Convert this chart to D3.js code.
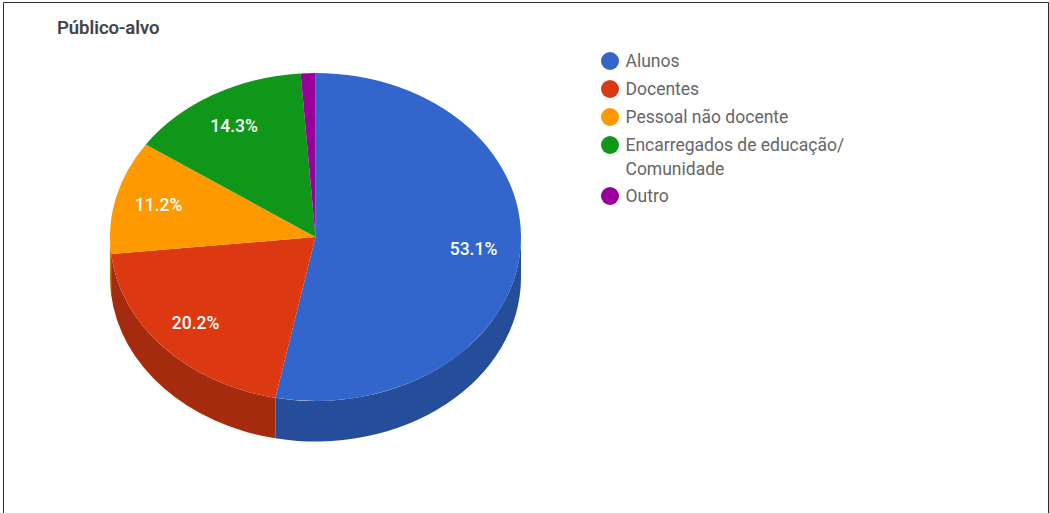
<!DOCTYPE html>
<html><head><meta charset="utf-8">
<script src="https://cdn.jsdelivr.net/npm/d3@7"></script>
<style>html,body{margin:0;padding:0;background:#fff;overflow:hidden}svg{display:block}text{font-family:Roboto,sans-serif}</style>
</head><body><svg id="c" width="1050" height="514"></svg>
<script>
const categories = ["Alunos","Docentes","Pessoal não docente","Encarregados de educação/|Comunidade","Outro"];
const values = [53.1,20.2,11.2,14.3,1.15];
const labels = ["53.1%","20.2%","11.2%","14.3%",""];
const colors = ["#3366cc","#dc3912","#ff9900","#109618","#990099"];
const wallColors = ["#264d99","#a52b0e","#bf7300","#0c7012","#730073"];
const legendY = [61,89,117,145,196];
const title = "Público-alvo";

const svg = d3.select("#c");
const cx=315.5, cy=237, rx=205.5, ry=164, depth=40.5;

svg.append("rect").attr("x",0).attr("y",0).attr("width",1050).attr("height",514).attr("fill","#fff");
svg.append("path").attr("d","M3.5,514V2.5H1048.5V513").attr("fill","none").attr("stroke","#2b2b2b").attr("stroke-width",1);
svg.append("rect").attr("x",0).attr("y",513).attr("width",1050).attr("height",1).attr("fill","#d8d8d8");
svg.append("rect").attr("x",1049).attr("y",0).attr("width",1).attr("height",514).attr("fill","#d8d8d8");

const arcs = d3.pie().sort(null)(values);
const px = a => cx + rx*Math.sin(a), py = a => cy - ry*Math.cos(a);

// side walls: only the front half of the ellipse
const wallGroup = svg.append("g");
arcs.forEach((d,i)=>{
  const a0=Math.max(d.startAngle,Math.PI/2), a1=Math.min(d.endAngle,Math.PI*1.5);
  if(a1<=a0) return;
  wallGroup.append("path")
    .attr("d",`M${px(a0)},${py(a0)}A${rx},${ry} 0 0 1 ${px(a1)},${py(a1)}L${px(a1)},${py(a1)+depth}A${rx},${ry} 0 0 0 ${px(a0)},${py(a0)+depth}Z`)
    .attr("fill",wallColors[i]);
});

// top face: circular arcs squashed into the ellipse
const arc = d3.arc().innerRadius(0).outerRadius(rx);
const faceGroup = svg.append("g").attr("transform",`translate(${cx},${cy}) scale(1,${ry/rx})`);
faceGroup.selectAll("path").data(arcs).join("path").attr("d",arc).attr("fill",(d,i)=>colors[i]);

// slice labels
svg.append("g").selectAll("text").data(arcs.filter(d=>labels[d.index])).join("text")
  .attr("x",d=>cx-1.5+0.78*rx*Math.sin((d.startAngle+d.endAngle)/2))
  .attr("y",d=>cy-0.5-0.78*ry*Math.cos((d.startAngle+d.endAngle)/2))
  .attr("dy","0.35em").attr("text-anchor","middle")
  .attr("fill","#fff").attr("font-size",17.5).attr("font-weight",500)
  .text(d=>labels[d.index]);

svg.append("text").attr("x",57).attr("y",33.5).attr("font-size",18.5).attr("font-weight",500).attr("fill","#424242").attr("stroke","#424242").attr("stroke-width",0.2).text(title);

const leg = svg.append("g").selectAll("g").data(categories).join("g").attr("transform",(d,i)=>`translate(0,${legendY[i]})`);
leg.append("circle").attr("cx",610).attr("r",9).attr("fill",(d,i)=>colors[i]);
leg.each(function(d){
  d.split("|").forEach((t,j)=>{
    d3.select(this).append("text").attr("x",625.5).attr("y",j*23.5).attr("dy","0.35em")
      .attr("font-size",17.5).attr("fill","#666666").text(t);
  });
});
</script></body></html>
